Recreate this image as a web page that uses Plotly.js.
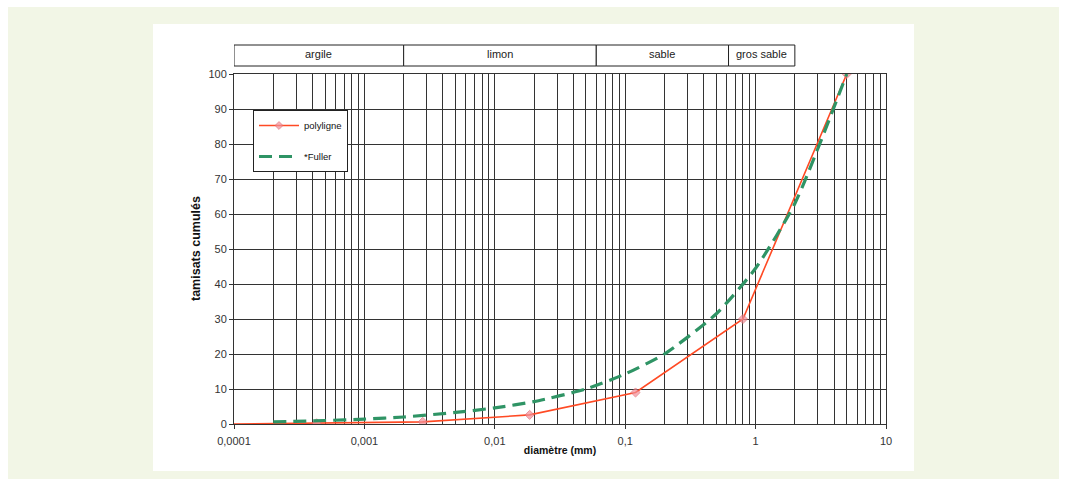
<!DOCTYPE html>
<html>
<head>
<meta charset="utf-8">
<script src="https://cdn.plot.ly/plotly-3.0.1.min.js"></script>
<style>
  html, body { margin: 0; padding: 0; background: #ffffff; }
  #wrap { position: relative; width: 1066px; height: 484px; overflow: hidden; background: #ffffff; }
  #panel { position: absolute; left: 8px; top: 7px; width: 1051px; height: 472px; background: #f2f6e6; }
  #card { position: absolute; left: 153px; top: 24px; width: 761px; height: 447px; background: #ffffff; }
  #chart { position: absolute; left: 0; top: 0; width: 1066px; height: 484px; }
</style>
</head>
<body>
<div id="wrap">
  <div id="panel"></div>
  <div id="card"></div>
  <div id="chart"></div>
</div>
<script>
// ---- data ----
const polyDiam = [0.0001, 0.00043, 0.0028, 0.0185, 0.12, 0.8, 5];
const polyPass = [0, 0.2, 0.6, 2.6, 9, 30, 100];

const fullerDiam = [0.0002, 0.0005, 0.001, 0.002, 0.005, 0.01, 0.02, 0.05, 0.1, 0.2, 0.5, 1, 2, 5];
const fullerPass = [0.6, 1.0, 1.4, 2.0, 3.3, 4.6, 6.4, 10, 14.3, 20, 31.5, 44.5, 63, 100];

const xTickVals = [0.0001, 0.001, 0.01, 0.1, 1, 10];
const xTickText = ["0,0001", "0,001", "0,01", "0,1", "1", "10"];

const bandLabels = ["argile", "limon", "sable", "gros sable"];
const bandEdges = [0.0001, 0.002, 0.06, 0.62, 2];

const seriesNames = ["polyligne", "*Fuller"];
const xTitle = "diamètre (mm)";
const yTitle = "tamisats cumulés";

// minor log gridlines (2..9 of each decade)
const minorVals = [];
for (let e = -4; e < 1; e++) {
  for (let m = 2; m <= 9; m++) minorVals.push(m * Math.pow(10, e));
}

const FONT = "Liberation Sans, Arial, sans-serif";
const GRID = "#333333";

const traces = [
  {
    x: polyDiam, y: polyPass, name: seriesNames[0], type: "scatter", mode: "lines+markers",
    line: { color: "#ff4a24", width: 1.6 },
    marker: { symbol: "diamond", size: polyDiam.map((d, i) => i === 0 ? 0 : 7), color: "#f2909a", line: { color: "#e06a72", width: 1 } },
    legendgroup: "a", xaxis: "x", yaxis: "y"
  },
  {
    x: fullerDiam, y: fullerPass, name: seriesNames[1], type: "scatter", mode: "lines",
    line: { color: "#2f9465", width: 3.2, dash: "13px,7px", shape: "spline", smoothing: 0.6 },
    legendgroup: "b", xaxis: "x", yaxis: "y"
  }
];

// band boxes above the plot (hidden linear overlay axis x2 in log10 units)
const shapes = [];
const annotations = [];
const yTop = (424 - 45) / 350, yBot = (424 - 66) / 350;
for (let i = 0; i < bandLabels.length; i++) {
  const a = Math.log10(bandEdges[i]), b = Math.log10(bandEdges[i + 1]);
  shapes.push({ type: "rect", xref: "x2", yref: "paper", x0: a, x1: b, y0: yBot, y1: yTop,
    line: { color: "#222222", width: 1 }, fillcolor: "#ffffff", layer: "above" });
  annotations.push({ xref: "x2", yref: "paper", x: (a + b) / 2, y: (yBot + yTop) / 2 + 0.004,
    text: bandLabels[i], showarrow: false, font: { family: FONT, size: 11, color: "#222222" },
    xanchor: "center", yanchor: "middle" });
}
annotations.push({ xref: "paper", yref: "paper", x: (196 - 234) / 652, y: (424 - 249) / 350,
  text: "<b>" + yTitle + "</b>", textangle: -90, showarrow: false,
  font: { family: FONT, size: 12.5, color: "#111111" }, xanchor: "center", yanchor: "middle" });

const layout = {
  width: 1066, height: 484,
  margin: { l: 234, r: 180, t: 74, b: 60, pad: 0 },
  paper_bgcolor: "rgba(0,0,0,0)",
  plot_bgcolor: "#ffffff",
  showlegend: true,
  legend: {
    x: (253 - 234) / 652, y: (424 - 110) / 350, xanchor: "left", yanchor: "top",
    bgcolor: "#ffffff", bordercolor: "#222222", borderwidth: 1,
    font: { family: FONT, size: 9.5, color: "#111111" },
    traceorder: "grouped", tracegroupgap: 12, itemwidth: 40, entrywidth: 84
  },
  xaxis: {
    type: "log", range: [-4, 1], tickmode: "array", tickvals: xTickVals, ticktext: xTickText,
    showgrid: true, gridcolor: GRID, gridwidth: 1,
    minor: { tickmode: "array", tickvals: minorVals, showgrid: true, gridcolor: GRID, gridwidth: 1, ticks: "" },
    showline: true, linecolor: GRID, linewidth: 1, mirror: true,
    ticks: "outside", ticklen: 4, tickcolor: GRID, ticklabelstandoff: 3,
    tickfont: { family: FONT, size: 11, color: "#333333" },
    title: { text: "<b>" + xTitle + "</b>", font: { family: FONT, size: 10.5, color: "#111111" }, standoff: 0 },
    zeroline: false, fixedrange: true
  },
  xaxis2: { type: "linear", range: [-4, 1], overlaying: "x", visible: false, showgrid: false },
  yaxis: {
    range: [0, 100], dtick: 10, tick0: 0,
    showgrid: true, gridcolor: GRID, gridwidth: 1,
    showline: true, linecolor: GRID, linewidth: 1, mirror: true,
    ticks: "outside", ticklen: 4, tickcolor: GRID,
    tickfont: { family: FONT, size: 11, color: "#333333" },
    zeroline: false, fixedrange: true
  },
  shapes: shapes,
  annotations: annotations
};

Plotly.newPlot("chart", traces, layout, { displayModeBar: false, staticPlot: true });
</script>
</body>
</html>
